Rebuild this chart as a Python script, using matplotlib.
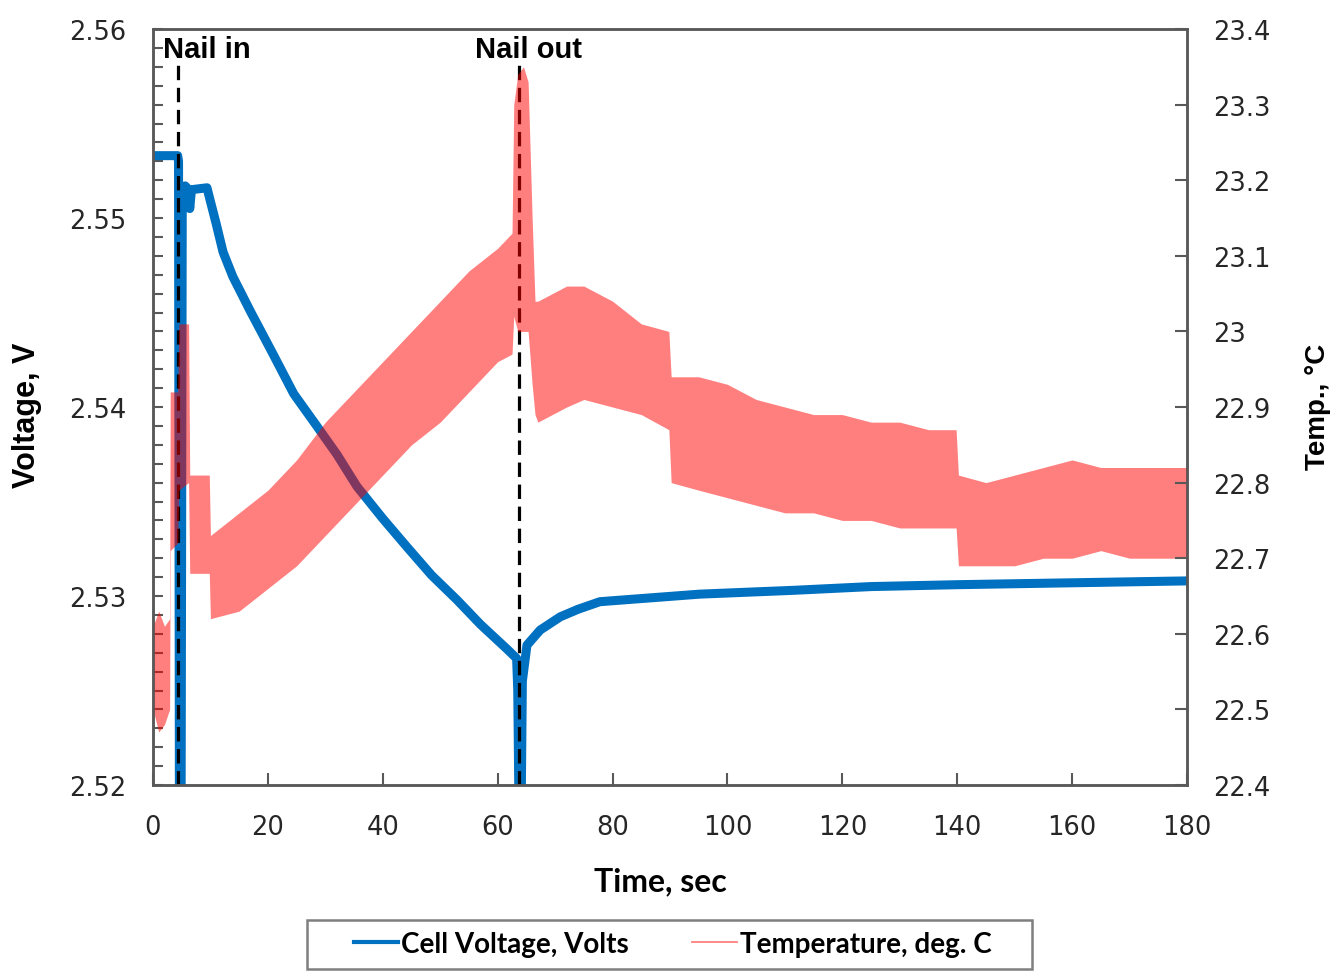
import matplotlib.pyplot as plt
from matplotlib.lines import Line2D
from matplotlib.patches import Rectangle
from matplotlib.ticker import MultipleLocator


# Cell voltage trace (sec, V)
volt_time = [0, 4.3, 4.45, 4.6, 4.9, 5.1, 5.6, 6.2, 6.4, 6.7, 9.4, 9.9, 11.0, 12.2,
             13.9, 16.9, 20.9, 24.5, 28.5, 32.0, 35.5, 40.0, 44.2, 48.5, 52.9, 57.0,
             61.6, 63.3, 63.5, 63.7, 64.1, 64.3, 65.1, 67.4, 70.9, 74.0, 77.8, 86.5,
             95.2, 111.4, 125.0, 140.1, 160, 180]
volt_values = [2.5533, 2.5533, 2.5530, 2.5190, 2.5190, 2.5512, 2.5517, 2.5515, 2.5505,
               2.5515, 2.5516, 2.5510, 2.5497, 2.5482, 2.5469, 2.5451, 2.5428, 2.5407,
               2.5390, 2.5375, 2.5358, 2.5341, 2.5326, 2.5311, 2.5298, 2.5285, 2.5272,
               2.5267, 2.5250, 2.5190, 2.5190, 2.5255, 2.5274, 2.5282, 2.5289, 2.5293,
               2.5297, 2.5299, 2.5301, 2.5303, 2.5305, 2.5306, 2.5307, 2.5308]

# Temperature is a noisy band: lower / upper envelope (sec, deg C)
temp_time = [0, 1, 2, 2.9, 3.0, 4.3, 4.5, 6.2, 6.4, 9.8, 10.0, 15, 20, 25, 30, 35,
             40, 45, 50, 55, 60, 62.5, 62.8, 63.5, 64.5, 65.3, 66.0, 66.5, 67, 72,
             75, 80, 85, 89.8, 90.2, 95, 100, 105, 110, 115, 120, 125, 130, 135,
             139.8, 140.2, 145, 150, 155, 160, 165, 170, 175, 180]
temp_low = [22.50, 22.47, 22.48, 22.50, 22.71, 22.72, 22.79, 22.80, 22.68, 22.68,
            22.62, 22.63, 22.66, 22.69, 22.73, 22.77, 22.81, 22.85, 22.88, 22.92,
            22.96, 22.97, 23.02, 23.00, 23.00, 23.00, 22.93, 22.89, 22.88, 22.90,
            22.91, 22.90, 22.89, 22.87, 22.80, 22.79, 22.78, 22.77, 22.76, 22.76,
            22.75, 22.75, 22.74, 22.74, 22.74, 22.69, 22.69, 22.69, 22.70, 22.70,
            22.71, 22.70, 22.70, 22.70]
temp_high = [22.61, 22.63, 22.61, 22.62, 22.92, 22.92, 23.01, 23.01, 22.81, 22.81,
             22.73, 22.76, 22.79, 22.83, 22.88, 22.92, 22.96, 23.00, 23.04, 23.08,
             23.11, 23.13, 23.30, 23.34, 23.35, 23.33, 23.15, 23.04, 23.04, 23.06,
             23.06, 23.04, 23.01, 23.00, 22.94, 22.94, 22.93, 22.91, 22.90, 22.89,
             22.89, 22.88, 22.88, 22.87, 22.87, 22.81, 22.80, 22.81, 22.82, 22.83,
             22.82, 22.82, 22.82, 22.82]

nail_times = [4.35, 63.7]
nail_labels = ['Nail in', 'Nail out']
series_names = ['Cell Voltage, Volts', 'Temperature, deg. C']

blue = '#0070C0'
spine_col = '#595959'
tick_col = '#262626'
arial = ['Liberation Sans']
calibri = ['Lato', 'DejaVu Sans']

fig = plt.figure(figsize=(13.36, 9.78), dpi=100)
ax = fig.add_axes([0.1145, 0.1963, 0.774, 0.7730])
ax2 = ax.twinx()

ax.plot(volt_time, volt_values, color=blue, lw=6.5, solid_joinstyle='round')
ax2.fill_between(temp_time, temp_low, temp_high, color='red', alpha=0.5, lw=0)

ax.set_xlim(0, 180)
ax.set_ylim(2.52, 2.56)
ax2.set_ylim(22.4, 23.4)

ax.xaxis.set_major_locator(MultipleLocator(20))
ax.yaxis.set_major_locator(MultipleLocator(0.01))
ax.yaxis.set_minor_locator(MultipleLocator(0.001))
ax.yaxis.set_major_formatter(plt.FuncFormatter(lambda v, p: f'{v:.2f}'))
ax2.yaxis.set_major_locator(MultipleLocator(0.1))
ax2.yaxis.set_major_formatter(plt.FuncFormatter(lambda v, p: f'{v:g}'))

ax.tick_params(axis='x', direction='in', length=9, width=1.5, color=spine_col,
               labelsize=18.5, labelcolor=tick_col, pad=21, top=False)
ax.tick_params(axis='y', which='both', direction='in', length=7, width=1.5,
               color=spine_col, labelsize=18.5, labelcolor=tick_col, pad=19)
ax2.tick_params(axis='y', direction='in', length=9, width=1.5, color=spine_col,
                labelsize=18.5, labelcolor=tick_col, pad=19)
for a in (ax, ax2):
    for s in a.spines.values():
        s.set_color(spine_col)
        s.set_linewidth(1.8)

# nail in / nail out markers
for t, lab, tx in zip(nail_times, nail_labels, [1.7, 56.1]):
    ax.axvline(t, ymin=0, ymax=0.955, color='black', lw=2.3, ls=(0, (4.5, 2.4)))
    ax.text(tx, 0.9735, lab, transform=ax.get_xaxis_transform(), fontsize=21,
            fontweight='bold', family=arial, va='center', ha='left')

fig.text(0.494, 0.098, 'Time, sec', ha='center', va='center', fontsize=23,
         fontweight='bold', family=calibri)
fig.text(0.020, 0.575, 'Voltage, V', ha='center', va='center', rotation=90,
         fontsize=22, fontweight='bold', family=arial)
fig.text(0.9865, 0.584, 'Temp., °C', ha='center', va='center', rotation=90,
         fontsize=20, fontweight='bold', family=arial)

# legend: entries without frame, box drawn separately to match its wide padding
handles = [Line2D([], [], color=blue, lw=3),
           Line2D([], [], color='red', alpha=0.5, lw=1.3)]
fig.legend(handles, series_names, loc='center', bbox_to_anchor=(0.5034, 0.0337),
           ncol=2, frameon=False, handlelength=1.6, handletextpad=0.1,
           columnspacing=2.3, prop={'family': calibri, 'weight': 'bold', 'size': 20})
fig.patches.append(Rectangle((0.2298, 0.0082), 0.5427, 0.0501,
                             transform=fig.transFigure, fill=False,
                             edgecolor='#7f7f7f', lw=1.8))

fig.savefig('out.png', dpi=100)
